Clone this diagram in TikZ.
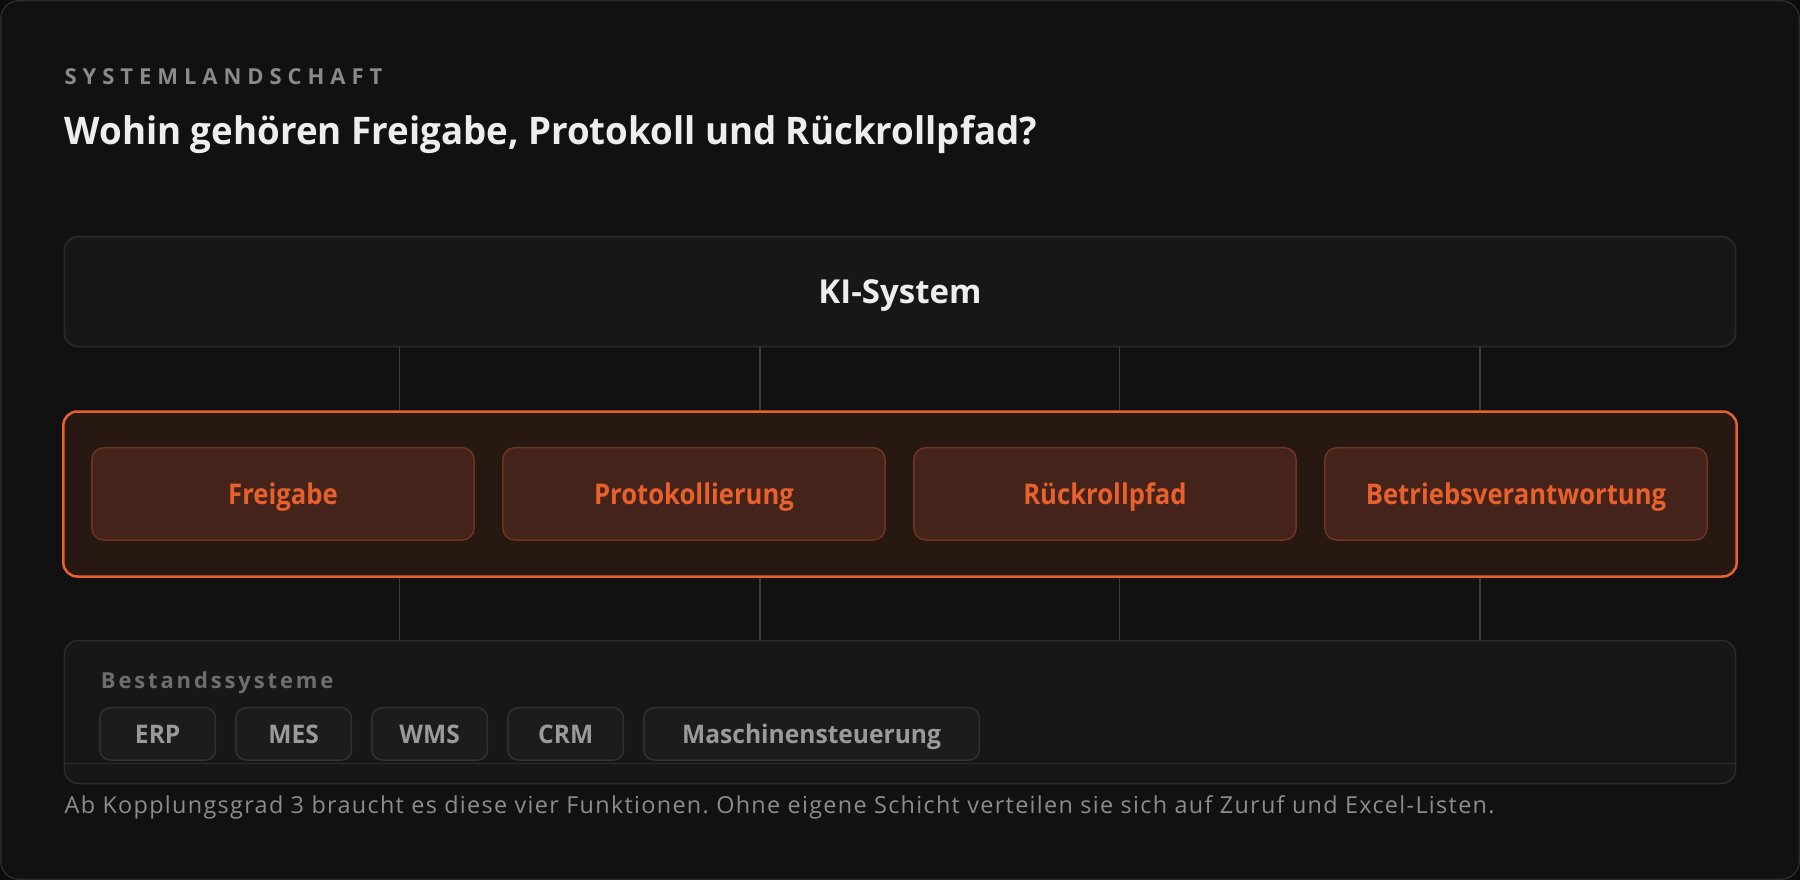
\documentclass[tikz,border=0pt]{standalone}
\usepackage{fontspec}
\setmainfont{Open Sans}
\usetikzlibrary{positioning}
\frenchspacing
\definecolor{outerbg}{HTML}{0B0B0B}
\definecolor{cardbg}{HTML}{111111}
\definecolor{cardline}{HTML}{2A2A2A}
\definecolor{boxbg}{HTML}{171717}
\definecolor{boxline}{HTML}{2B2B2B}
\definecolor{wire}{HTML}{3A3A3A}
\definecolor{accent}{HTML}{E8602C}
\definecolor{layerbg}{HTML}{271812}
\definecolor{funcbg}{HTML}{43231A}
\definecolor{funcline}{HTML}{70351F}
\definecolor{chipbg}{HTML}{1C1C1C}
\definecolor{chipline}{HTML}{303030}
\definecolor{chiptext}{HTML}{9A9A9A}
\definecolor{eyebrowtext}{HTML}{8A8A8A}
\definecolor{labeltext}{HTML}{6E6E6E}
\definecolor{titletext}{HTML}{EDEDED}
\definecolor{foottext}{HTML}{8C8C8C}
\tikzset{node distance=27.2pt,
  plain/.style={inner sep=0pt, anchor=base west},
  box/.style={draw=boxline, fill=boxbg, line width=1.5pt, rounded corners=14pt, minimum width=1671.4pt, inner sep=0pt},
  layer/.style={draw=accent, fill=layerbg, line width=2.5pt, rounded corners=14pt, minimum width=1673.4pt, minimum height=165pt},
  func/.style={draw=funcline, fill=funcbg, line width=1.5pt, rounded corners=12pt, minimum width=382.3pt, minimum height=92.3pt,
    inner sep=0pt, text=accent, font=\fontsize{28.5}{34}\selectfont\bfseries\addfontfeature{FakeStretch=0.9},
    text height=20.3pt, text depth=0pt},
  chip/.style={draw=chipline, fill=chipbg, line width=1.5pt, rounded corners=10pt, minimum width=115.5pt, minimum height=52.3pt,
    inner sep=0pt, text=chiptext, font=\fontsize{25.6}{30}\selectfont\bfseries\addfontfeature{FakeStretch=0.96},
    text height=18.3pt, text depth=0pt},
  wireline/.style={draw=wire, line width=1.5pt}}

\begin{document}
\begin{tikzpicture}[x=1pt,y=-1pt]
\useasboundingbox (0,0) rectangle (1800,880);
\fill[outerbg] (0,0) rectangle (1800,880);
\draw[fill=cardbg, draw=cardline, line width=1.5pt, rounded corners=18pt] (0.75,0.75) rectangle (1799.25,879.25);

% heading
\node[plain, text=eyebrowtext, font=\fontsize{22}{26}\selectfont\bfseries\addfontfeature{LetterSpace=27}] (eyebrow) at (64.5,84.3) {SYSTEMLANDSCHAFT};
\node[plain, text=titletext, font=\fontsize{38}{44}\selectfont\bfseries\addfontfeature{FakeStretch=0.965}] (title) at (64.5,144.3) {Wohin gehören Freigabe, Protokoll und Rückrollpfad?};

% top system
\node[box, minimum height=110.2pt, text=titletext, font=\fontsize{33}{38}\selectfont\bfseries, text height=23.6pt, text depth=0pt] (ki) at (900,291.6) {KI-System};

% control layer
\node[layer] (layer) at (900,494) {};
\node[func] (f1) at (283,493.85) {Freigabe};
\node[func, right=of f1] (f2) {Protokollierung};
\node[func, right=of f2] (f3) {Rückrollpfad};
\node[func, right=of f3] (f4) {Betriebsverantwortung};

% legacy systems
\node[box, minimum height=143pt] (bestand) at (900,712) {};
\node[plain, text=labeltext, font=\fontsize{22}{26}\selectfont\bfseries\addfontfeature{LetterSpace=13}] (bestlabel) at (100.7,688) {Bestandssysteme};
\node[chip] (erp) at (157.7,733.85) {ERP};
\node[chip, right=19pt of erp] (mes) {MES};
\node[chip, right=19pt of mes] (wms) {WMS};
\node[chip, right=19pt of wms] (crm) {CRM};
\node[chip, right=19pt of crm, minimum width=335.3pt] (masch) {Maschinensteuerung};
\coordinate (track) at (0,763.3);
\draw[wireline, draw=boxline] (bestand.west |- track) -- (bestand.east |- track);

% connectors
\foreach \x [count=\i] in {399.5,760,1119.5,1480} {
  \coordinate (t\i) at (\x,0);
  \draw[wireline] (ki.south -| t\i) -- (layer.north -| t\i);
  \draw[wireline] (layer.south -| t\i) -- (bestand.north -| t\i);
}

\node[plain, text=foottext, font=\fontsize{23.4}{28}\selectfont\addfontfeature{LetterSpace=5.6}] (foot) at (64.5,813.3) {Ab Kopplungsgrad 3 braucht es diese vier Funktionen. Ohne eigene Schicht verteilen sie sich auf Zuruf und Excel-Listen.};
\end{tikzpicture}
\end{document}
